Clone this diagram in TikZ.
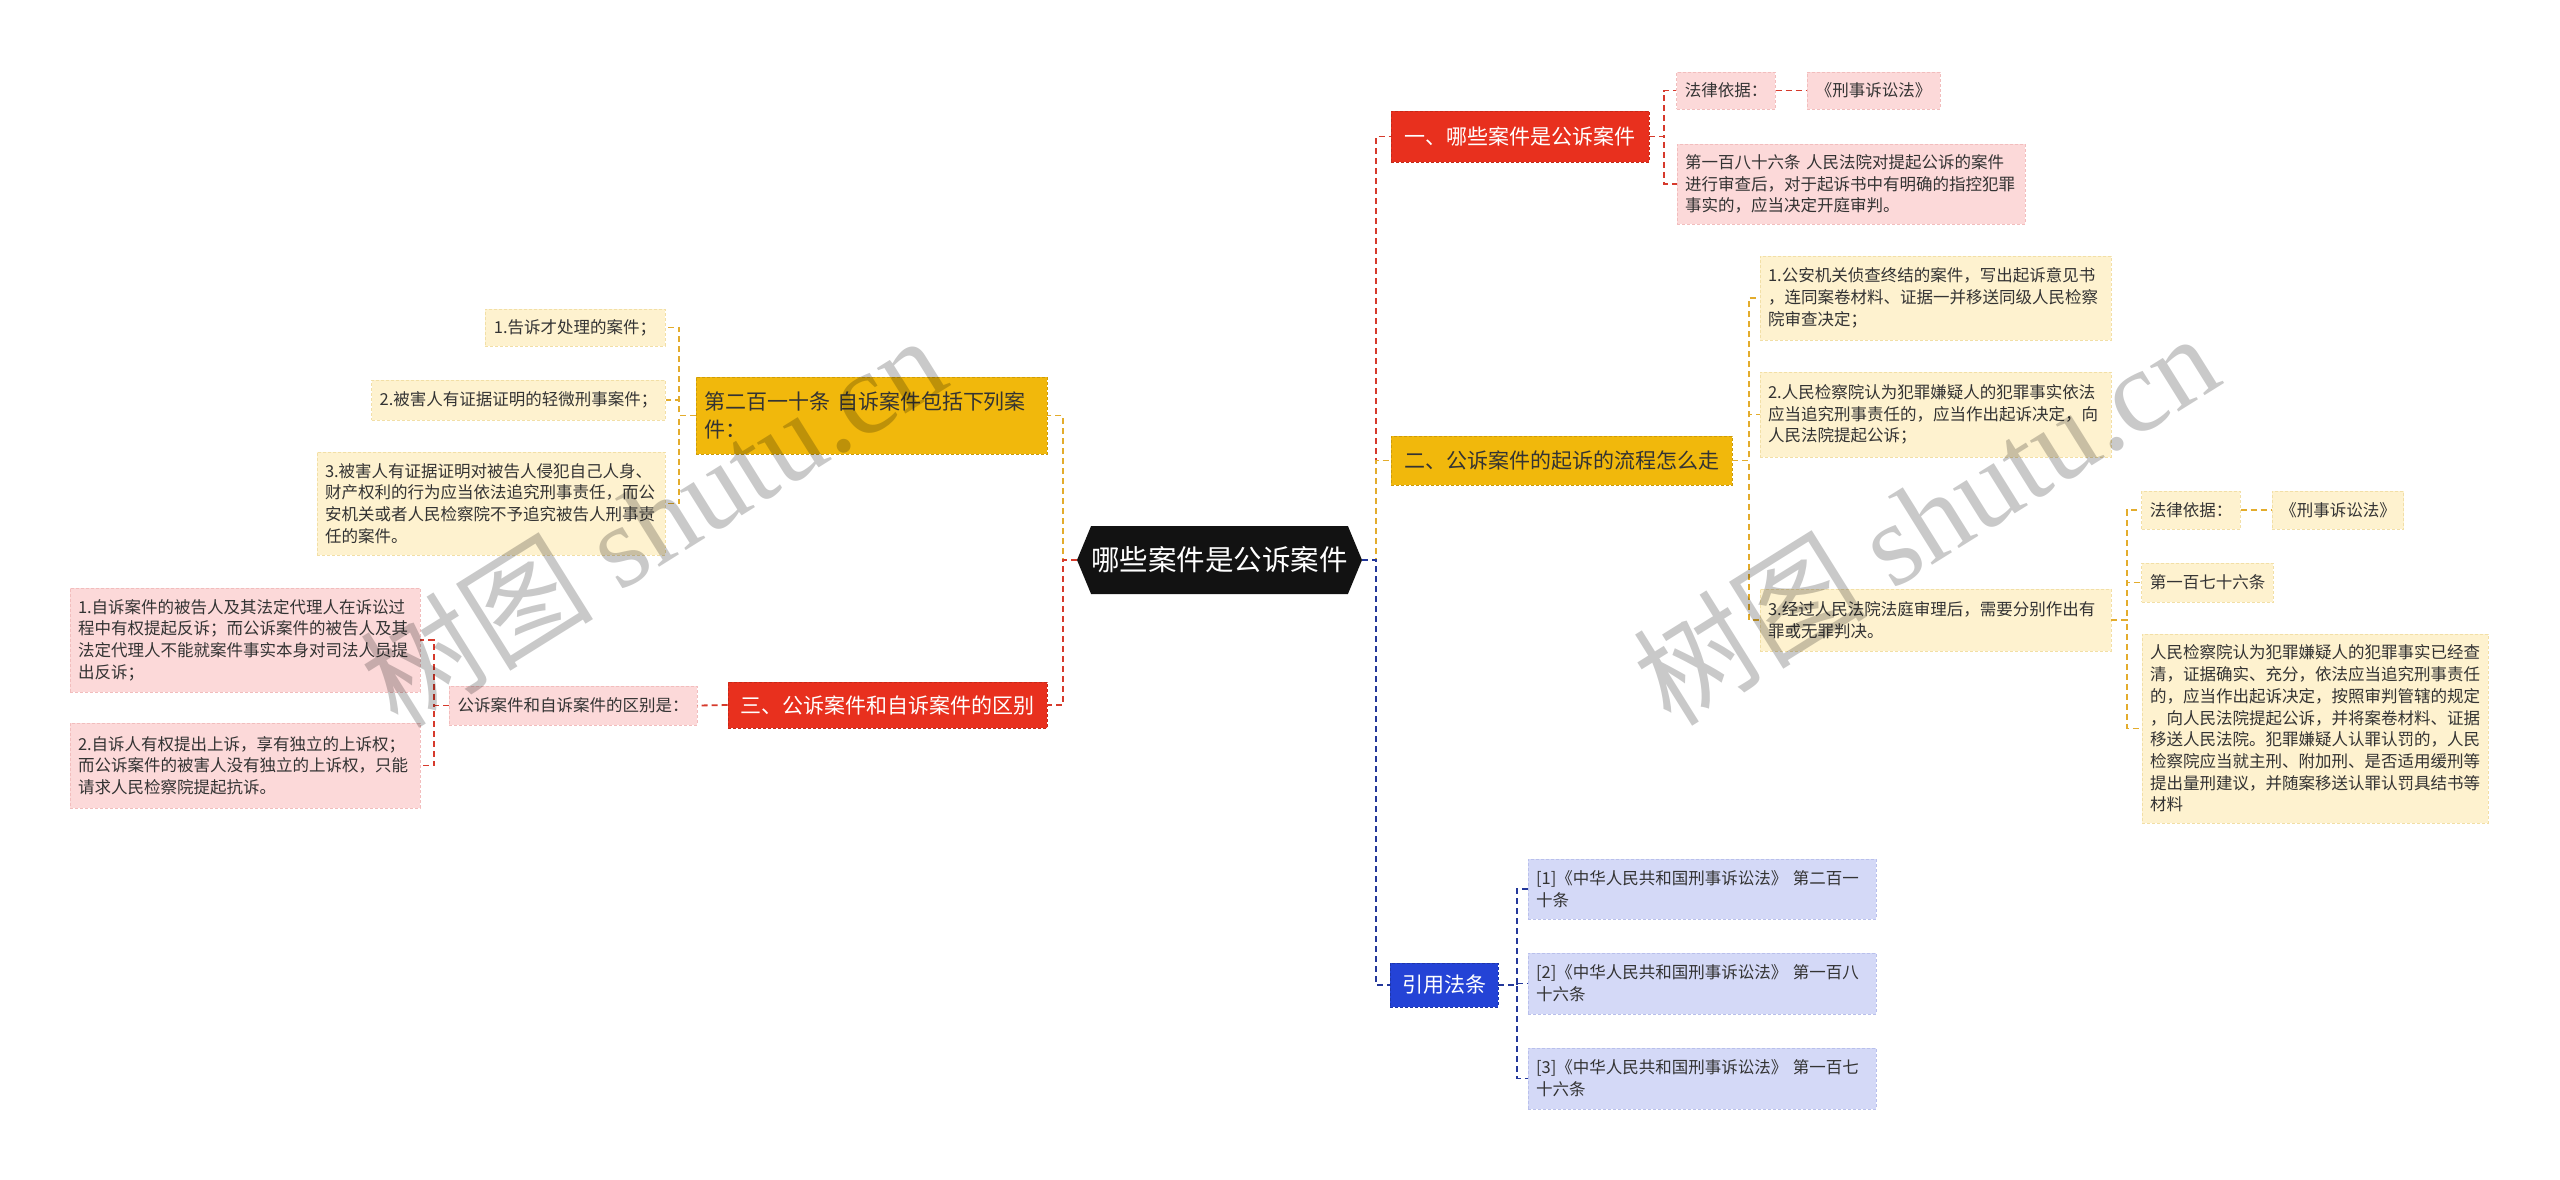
\documentclass[tikz,border=0pt]{standalone}
\usepackage{fontspec}
\setmainfont{Noto Sans CJK SC}
\newfontfamily\wmfont{Liberation Serif}
\usetikzlibrary{shapes.symbols}
\definecolor{redF}{HTML}{E8301E}
\definecolor{goldF}{HTML}{F1B80C}
\definecolor{blueF}{HTML}{2443D6}
\definecolor{pinkF}{HTML}{FCD9D9}
\definecolor{pinkD}{HTML}{F2BDBD}
\definecolor{creamF}{HTML}{FEF2CF}
\definecolor{creamD}{HTML}{F2DFA6}
\definecolor{lavF}{HTML}{D4D9F7}
\definecolor{lavD}{HTML}{B9C0EC}
\definecolor{txt}{HTML}{333333}
\definecolor{cRc}{HTML}{D63A2C}
\definecolor{cGc}{HTML}{E3AC2C}
\definecolor{cBc}{HTML}{23379A}
\tikzset{
  cen/.style={signal, signal to=west and east, signal pointer angle=135, fill=black!93, text=white,
    minimum width=285pt, minimum height=68pt, inner sep=0pt, font=\fontsize{28.5}{33}\selectfont},
  br/.style={inner xsep=12pt, inner ysep=0pt, align=left, dash pattern=on 3pt off 2pt, line width=0.8pt,
    font=\fontsize{21}{28}\selectfont},
  brR/.style={br, fill=redF, draw=redF!85!black, text=white},
  brG/.style={br, fill=goldF, draw=goldF!85!black, text=txt},
  brB/.style={br, fill=blueF, draw=blueF!80!black, text=white},
  lf/.style={inner xsep=8pt, inner ysep=0pt, align=left, dash pattern=on 3pt off 2pt, line width=0.8pt,
    font=\fontsize{16.5}{21.7}\selectfont, text=txt},
  lfP/.style={lf, fill=pinkF, draw=pinkD},
  lfY/.style={lf, fill=creamF, draw=creamD},
  lfB/.style={lf, fill=lavF, draw=lavD},
  cn/.style={line width=1.8pt, dash pattern=on 6pt off 4pt},
  cR/.style={cn, draw=cRc},
  cG/.style={cn, draw=cGc},
  cB/.style={cn, draw=cBc},
  wm/.style={text=black, text opacity=0.21, font=\fontsize{117}{117}\selectfont, rotate=32, inner sep=0pt}
}
\begin{document}
\begin{tikzpicture}[x=1pt,y=-1pt]
\useasboundingbox[fill=white] (0,0) rectangle (2560,1179);

% trunk coordinates
\coordinate (tR) at (1376,0);
\coordinate (tL) at (1063,0);
\coordinate (t1) at (1664,0);
\coordinate (t2) at (1749,0);
\coordinate (t2c) at (2127,0);
\coordinate (t3) at (1517,0);
\coordinate (tL1) at (679,0);
\coordinate (tL2) at (434,0);

% central
\node[cen] (c) at (1219.5,560) {哪些案件是公诉案件};

% branch 1
\node[brR, minimum width=258pt, minimum height=51pt] (n1) at (1520,136.5) {一、哪些案件是公诉案件};
\node[lfP, minimum width=98pt, minimum height=37pt] (n1a) at (1726,90.5) {法律依据：};
\node[lfP, minimum width=133pt, minimum height=37pt] (n1b) at (1873.5,90.5) {《刑事诉讼法》};
\node[lfP, text width=332pt, minimum height=80pt] (n1c) at (1851,184) {第一百八十六条 人民法院对提起公诉的案件\\进行审查后，对于起诉书中有明确的指控犯罪\\事实的，应当决定开庭审判。};

% branch 2
\node[brG, minimum width=341pt, minimum height=49pt] (n2) at (1561.5,460.5) {二、公诉案件的起诉的流程怎么走};
\node[lfY, text width=335pt, minimum height=84pt] (n2a) at (1935.5,298) {1.公安机关侦查终结的案件，写出起诉意见书\\，连同案卷材料、证据一并移送同级人民检察\\院审查决定；};
\node[lfY, text width=335pt, minimum height=85pt] (n2b) at (1935.5,414.5) {2.人民检察院认为犯罪嫌疑人的犯罪事实依法\\应当追究刑事责任的，应当作出起诉决定，向\\人民法院提起公诉；};
\node[lfY, text width=335pt, minimum height=62pt] (n2c) at (1935.5,620) {3.经过人民法院法庭审理后，需要分别作出有\\罪或无罪判决。};
\node[lfY, minimum width=98pt, minimum height=38pt] (n2c1) at (2191,510) {法律依据：};
\node[lfY, minimum width=130pt, minimum height=38pt] (n2c2) at (2338,510) {《刑事诉讼法》};
\node[lfY, minimum width=131pt, minimum height=39pt] (n2c3) at (2207.5,582.5) {第一百七十六条};
\node[lfY, text width=330pt, minimum height=189pt] (n2c4) at (2315,728.5) {人民检察院认为犯罪嫌疑人的犯罪事实已经查\\清，证据确实、充分，依法应当追究刑事责任\\的，应当作出起诉决定，按照审判管辖的规定\\，向人民法院提起公诉，并将案卷材料、证据\\移送人民法院。犯罪嫌疑人认罪认罚的，人民\\检察院应当就主刑、附加刑、是否适用缓刑等\\提出量刑建议，并随案移送认罪认罚具结书等\\材料};

% branch 3 (refs)
\node[brB, minimum width=106pt, minimum height=44pt] (n3) at (1444,985) {引用法条};
\node[lfB, text width=332pt, minimum height=60pt] (r1) at (1702,889) {[1]《中华人民共和国刑事诉讼法》 第二百一\\十条};
\node[lfB, text width=332pt, minimum height=61pt] (r2) at (1702,983.5) {[2]《中华人民共和国刑事诉讼法》 第一百八\\十六条};
\node[lfB, text width=332pt, minimum height=61pt] (r3) at (1702,1078.5) {[3]《中华人民共和国刑事诉讼法》 第一百七\\十六条};

% left branch 1
\node[brG, inner xsep=8pt, text width=335pt, minimum height=77pt] (L1) at (871.5,415.5) {第二百一十条 自诉案件包括下列案\\件：};
\node[lfY, minimum width=180pt, minimum height=37pt] (L1a) at (575,327.5) {1.告诉才处理的案件；};
\node[lfY, minimum width=293pt, minimum height=40pt] (L1b) at (518.5,400) {2.被害人有证据证明的轻微刑事案件；};
\node[lfY, text width=332pt, minimum height=103pt] (L1c) at (491,503.5) {3.被害人有证据证明对被告人侵犯自己人身、\\财产权利的行为应当依法追究刑事责任，而公\\安机关或者人民检察院不予追究被告人刑事责\\任的案件。};

% left branch 2
\node[brR, minimum width=319pt, minimum height=46pt] (L2) at (887.5,705) {三、公诉案件和自诉案件的区别};
\node[lfP, minimum width=248pt, minimum height=39pt] (L2a) at (573,705.5) {公诉案件和自诉案件的区别是：};
\node[lfP, text width=334pt, minimum height=104pt] (L2a1) at (245,640) {1.自诉案件的被告人及其法定代理人在诉讼过\\程中有权提起反诉；而公诉案件的被告人及其\\法定代理人不能就案件事实本身对司法人员提\\出反诉；};
\node[lfP, text width=334pt, minimum height=85pt] (L2a2) at (245,765.5) {2.自诉人有权提出上诉，享有独立的上诉权；\\而公诉案件的被害人没有独立的上诉权，只能\\请求人民检察院提起抗诉。};

% connectors: central to branches
\draw[cR] (c.east) -- (c.east -| tR) |- (n1.west);
\draw[cG] (c.east) -- (c.east -| tR) |- (n2.west);
\draw[cB] (c.east) -- (c.east -| tR) |- (n3.west);
\draw[cG] (c.west) -- (c.west -| tL) |- (L1.east);
\draw[cR] (c.west) -- (c.west -| tL) |- (L2.east);

% branch 1
\draw[cR] (n1.east) -- (n1.east -| t1) |- (n1a.west);
\draw[cR] (n1.east) -- (n1.east -| t1) |- (n1c.west);
\draw[cR] (n1a.east) -- (n1b.west);

% branch 2
\draw[cG] (n2.east) -- (n2.east -| t2) |- (n2a.west);
\draw[cG] (n2.east) -- (n2.east -| t2) |- (n2b.west);
\draw[cG] (n2.east) -- (n2.east -| t2) |- (n2c.west);
\draw[cG] (n2c.east) -- (n2c.east -| t2c) |- (n2c1.west);
\draw[cG] (n2c.east) -- (n2c.east -| t2c) |- (n2c3.west);
\draw[cG] (n2c.east) -- (n2c.east -| t2c) |- (n2c4.west);
\draw[cG] (n2c1.east) -- (n2c2.west);

% branch 3
\draw[cB] (n3.east) -- (n3.east -| t3) |- (r1.west);
\draw[cB] (n3.east) -- (n3.east -| t3) |- (r2.west);
\draw[cB] (n3.east) -- (n3.east -| t3) |- (r3.west);

% left branches
\draw[cG] (L1.west) -- (L1.west -| tL1) |- (L1a.east);
\draw[cG] (L1.west) -- (L1.west -| tL1) |- (L1b.east);
\draw[cG] (L1.west) -- (L1.west -| tL1) |- (L1c.east);
\draw[cR] (L2.west) -- (L2a.east);
\draw[cR] (L2a.west) -- (L2a.west -| tL2) |- (L2a1.east);
\draw[cR] (L2a.west) -- (L2a.west -| tL2) |- (L2a2.east);

% watermarks
\node[wm] (wm1) at (652,520) {树图 {\wmfont shutu.cn}};
\node[wm] (wm2) at (1925,518) {树图 {\wmfont shutu.cn}};
\end{tikzpicture}
\end{document}
